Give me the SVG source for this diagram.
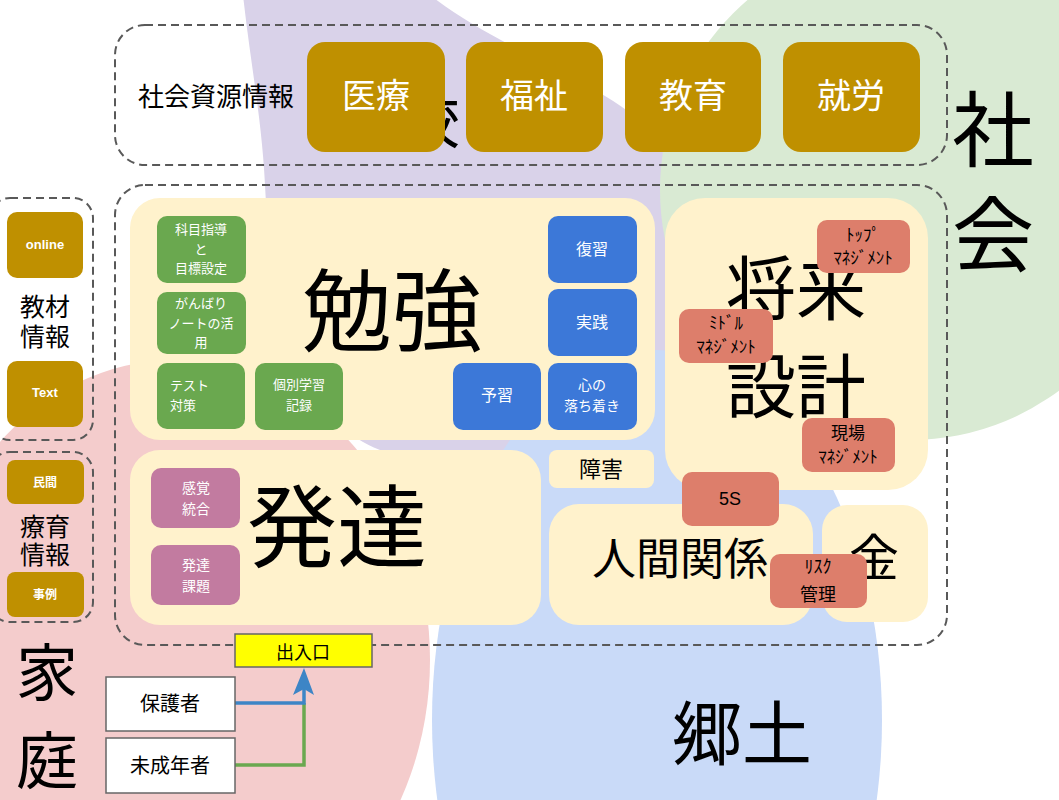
<svg xmlns="http://www.w3.org/2000/svg" width="1059" height="800" viewBox="0 0 1059 800">
<style>
text{font-family:"Noto Sans CJK JP","Noto Sans",sans-serif;text-anchor:middle}
.lat{font-family:"Liberation Sans",Arial,sans-serif;font-weight:bold}
.gold{fill:#bf9000}
.cream{fill:#fff2cc}
.green{fill:#6aa84f}
.blue{fill:#3c78d8}
.plum{fill:#c27ba0}
.red{fill:#dd7e6b}
.dash{fill:none;stroke:#595959;stroke-width:2;stroke-dasharray:8 5}
.w{fill:#ffffff}
.k{fill:#000000}
.hk{font-size:17px}
.plain{fill:#ffffff;stroke:#666666;stroke-width:1.5}
</style>
<rect width="1059" height="800" fill="#ffffff"/>
<g id="background">
<path d="M243,-5 L430,-5 C500,50 600,80 650,130 C700,200 700,330 660,380 C600,460 460,470 380,450 C300,420 270,300 265,185 C262,120 250,60 243,-5 Z" fill="#d9d2e9"/>
<circle cx="910" cy="190" r="250" fill="#d9ead3"/>
<ellipse cx="175" cy="660" rx="255" ry="300" fill="#f4cccc"/>
<ellipse cx="657" cy="720" rx="225" ry="370" fill="#c9daf8"/>
<text x="460" y="143" font-size="60" class="k" style="text-anchor:end">学校</text>
<text x="993" y="160" font-size="82" class="k">社</text>
<text x="993" y="265" font-size="82" class="k">会</text>
<text x="47" y="696" font-size="62" class="k">家</text>
<text x="47" y="784" font-size="62" class="k">庭</text>
<text x="742" y="760" font-size="70" class="k">郷土</text>
</g>
<g id="social-resources">
<rect x="115" y="25" width="832" height="140" rx="30" class="dash"/>
<text x="216" y="106" font-size="26" class="k">社会資源情報</text>
</g>
<g id="iryo"><rect x="307" y="42" width="138" height="110" rx="18" class="gold"/><text x="376" y="108" font-size="34" class="w">医療</text></g>
<g id="fukushi"><rect x="466" y="42" width="137" height="110" rx="18" class="gold"/><text x="534" y="108" font-size="34" class="w">福祉</text></g>
<g id="kyoiku"><rect x="625" y="42" width="136" height="110" rx="18" class="gold"/><text x="693" y="108" font-size="34" class="w">教育</text></g>
<g id="shuro"><rect x="783" y="42" width="137" height="110" rx="18" class="gold"/><text x="851" y="108" font-size="34" class="w">就労</text></g>

<g id="main-frame"><rect x="115" y="185" width="832" height="460" rx="30" class="dash"/></g>

<g id="benkyo">
<rect x="130" y="198" width="525" height="242" rx="30" class="cream"/>
<text x="392" y="344" font-size="90" class="k">勉強</text>
</g>
<g id="kamoku"><rect x="157" y="216" width="89" height="67" rx="10" class="green"/>
<text x="201" y="234" font-size="13" class="w">科目指導</text><text x="201" y="254" font-size="13" class="w">と</text><text x="201" y="273" font-size="13" class="w">目標設定</text></g>
<g id="ganbari"><rect x="157" y="292" width="89" height="62" rx="10" class="green"/>
<text x="201" y="308" font-size="13" class="w">がんばり</text><text x="201" y="328" font-size="13" class="w">ノートの活</text><text x="201" y="347" font-size="13" class="w">用</text></g>
<g id="test"><rect x="157" y="363" width="88" height="66" rx="10" class="green"/>
<text x="170" y="390" font-size="13" class="w" style="text-anchor:start">テスト</text><text x="170" y="410" font-size="13" class="w" style="text-anchor:start">対策</text></g>
<g id="kobetsu"><rect x="255" y="363" width="88" height="67" rx="10" class="green"/>
<text x="299" y="389" font-size="13" class="w">個別学習</text><text x="299" y="410" font-size="13" class="w">記録</text></g>
<g id="fukushu"><rect x="548" y="216" width="89" height="67" rx="10" class="blue"/><text x="592" y="255" font-size="16" class="w">復習</text></g>
<g id="jissen"><rect x="548" y="289" width="89" height="67" rx="10" class="blue"/><text x="592" y="328" font-size="16" class="w">実践</text></g>
<g id="yoshu"><rect x="453" y="363" width="88" height="67" rx="10" class="blue"/><text x="497" y="401" font-size="16" class="w">予習</text></g>
<g id="kokoro"><rect x="548" y="363" width="89" height="67" rx="10" class="blue"/>
<text x="592" y="390" font-size="14" class="w">心の</text><text x="592" y="411" font-size="14" class="w">落ち着き</text></g>

<g id="hattatsu">
<rect x="130" y="450" width="411" height="175" rx="30" class="cream"/>
<text x="337" y="560" font-size="90" class="k">発達</text>
</g>
<g id="kankaku"><rect x="151" y="468" width="89" height="60" rx="10" class="plum"/>
<text x="196" y="493" font-size="14" class="w">感覚</text><text x="196" y="514" font-size="14" class="w">統合</text></g>
<g id="kadai"><rect x="151" y="545" width="89" height="60" rx="10" class="plum"/>
<text x="196" y="570" font-size="14" class="w">発達</text><text x="196" y="591" font-size="14" class="w">課題</text></g>

<g id="shogai"><rect x="549" y="450" width="105" height="38" rx="8" class="cream"/><text x="601" y="477" font-size="22" class="k">障害</text></g>

<g id="shorai">
<rect x="665" y="198" width="263" height="292" rx="40" class="cream"/>
<text x="796" y="315" font-size="70" class="k">将来</text>
<text x="796" y="413" font-size="70" class="k">設計</text>
</g>
<g id="ningen">
<rect x="549" y="504" width="264" height="121" rx="30" class="cream"/>
<text x="680" y="575" font-size="44" class="k">人間関係</text>
</g>
<g id="kane">
<rect x="822" y="505" width="106" height="117" rx="25" class="cream"/>
<text x="874" y="576" font-size="50" class="k">金</text>
</g>
<g id="top-mgmt"><rect x="817" y="220" width="93" height="53" rx="10" class="red"/>
<text x="863" y="241" class="k hk">ﾄｯﾌﾟ</text><text x="863" y="264" class="k hk">ﾏﾈｼﾞﾒﾝﾄ</text></g>
<g id="middle-mgmt"><rect x="679" y="309" width="94" height="54" rx="10" class="red"/>
<text x="726" y="329" class="k hk">ﾐﾄﾞﾙ</text><text x="726" y="353" class="k hk">ﾏﾈｼﾞﾒﾝﾄ</text></g>
<g id="genba-mgmt"><rect x="802" y="418" width="93" height="54" rx="10" class="red"/>
<text x="848" y="439" font-size="17" class="k">現場</text><text x="848" y="463" class="k hk">ﾏﾈｼﾞﾒﾝﾄ</text></g>
<g id="five-s"><rect x="682" y="472" width="97" height="54" rx="10" class="red"/>
<text x="730" y="505" font-size="18" class="k" style="font-family:'Liberation Sans',Arial,sans-serif">5S</text></g>
<g id="risk"><rect x="770" y="554" width="97" height="54" rx="10" class="red"/>
<text x="818" y="573" class="k" font-size="18">ﾘｽｸ</text><text x="818" y="601" font-size="18" class="k">管理</text></g>

<g id="kyozai">
<rect x="-10" y="198" width="103" height="242" rx="20" class="dash"/>
<rect x="7" y="212" width="76" height="66" rx="10" class="gold"/>
<text x="45" y="249" font-size="13" class="w lat">online</text>
<text x="45" y="316" font-size="25" class="k">教材</text>
<text x="45" y="346" font-size="25" class="k">情報</text>
<rect x="7" y="361" width="76" height="66" rx="10" class="gold"/>
<text x="45" y="397" font-size="13" class="w lat">Text</text>
</g>
<g id="ryoiku">
<rect x="-10" y="452" width="103" height="170" rx="20" class="dash"/>
<rect x="7" y="460" width="77" height="44" rx="8" class="gold"/>
<text x="45" y="487" font-size="12" class="w" style="font-weight:bold">民間</text>
<text x="45" y="536" font-size="25" class="k">療育</text>
<text x="45" y="564" font-size="25" class="k">情報</text>
<rect x="7" y="572" width="77" height="45" rx="8" class="gold"/>
<text x="45" y="599" font-size="12" class="w" style="font-weight:bold">事例</text>
</g>

<g id="connectors">
<polyline points="235,765 304,765 304,703" fill="none" stroke="#6aa84f" stroke-width="3.5"/>
<polyline points="235,703 304,703 304,688" fill="none" stroke="#3d85c6" stroke-width="3.5"/>
<path d="M304,668 L314,695 L304,689 L293,695 Z" fill="#3d85c6"/>
</g>
<g id="deguchi"><rect x="235" y="634" width="137" height="33" class="plain" style="fill:#ffff00"/><text x="303" y="659" font-size="18" class="k">出入口</text></g>
<g id="hogosha"><rect x="106" y="677" width="129" height="54" class="plain"/><text x="170" y="711" font-size="20" class="k">保護者</text></g>
<g id="miseinen"><rect x="106" y="738" width="129" height="55" class="plain"/><text x="170" y="773" font-size="20" class="k">未成年者</text></g>
</svg>
